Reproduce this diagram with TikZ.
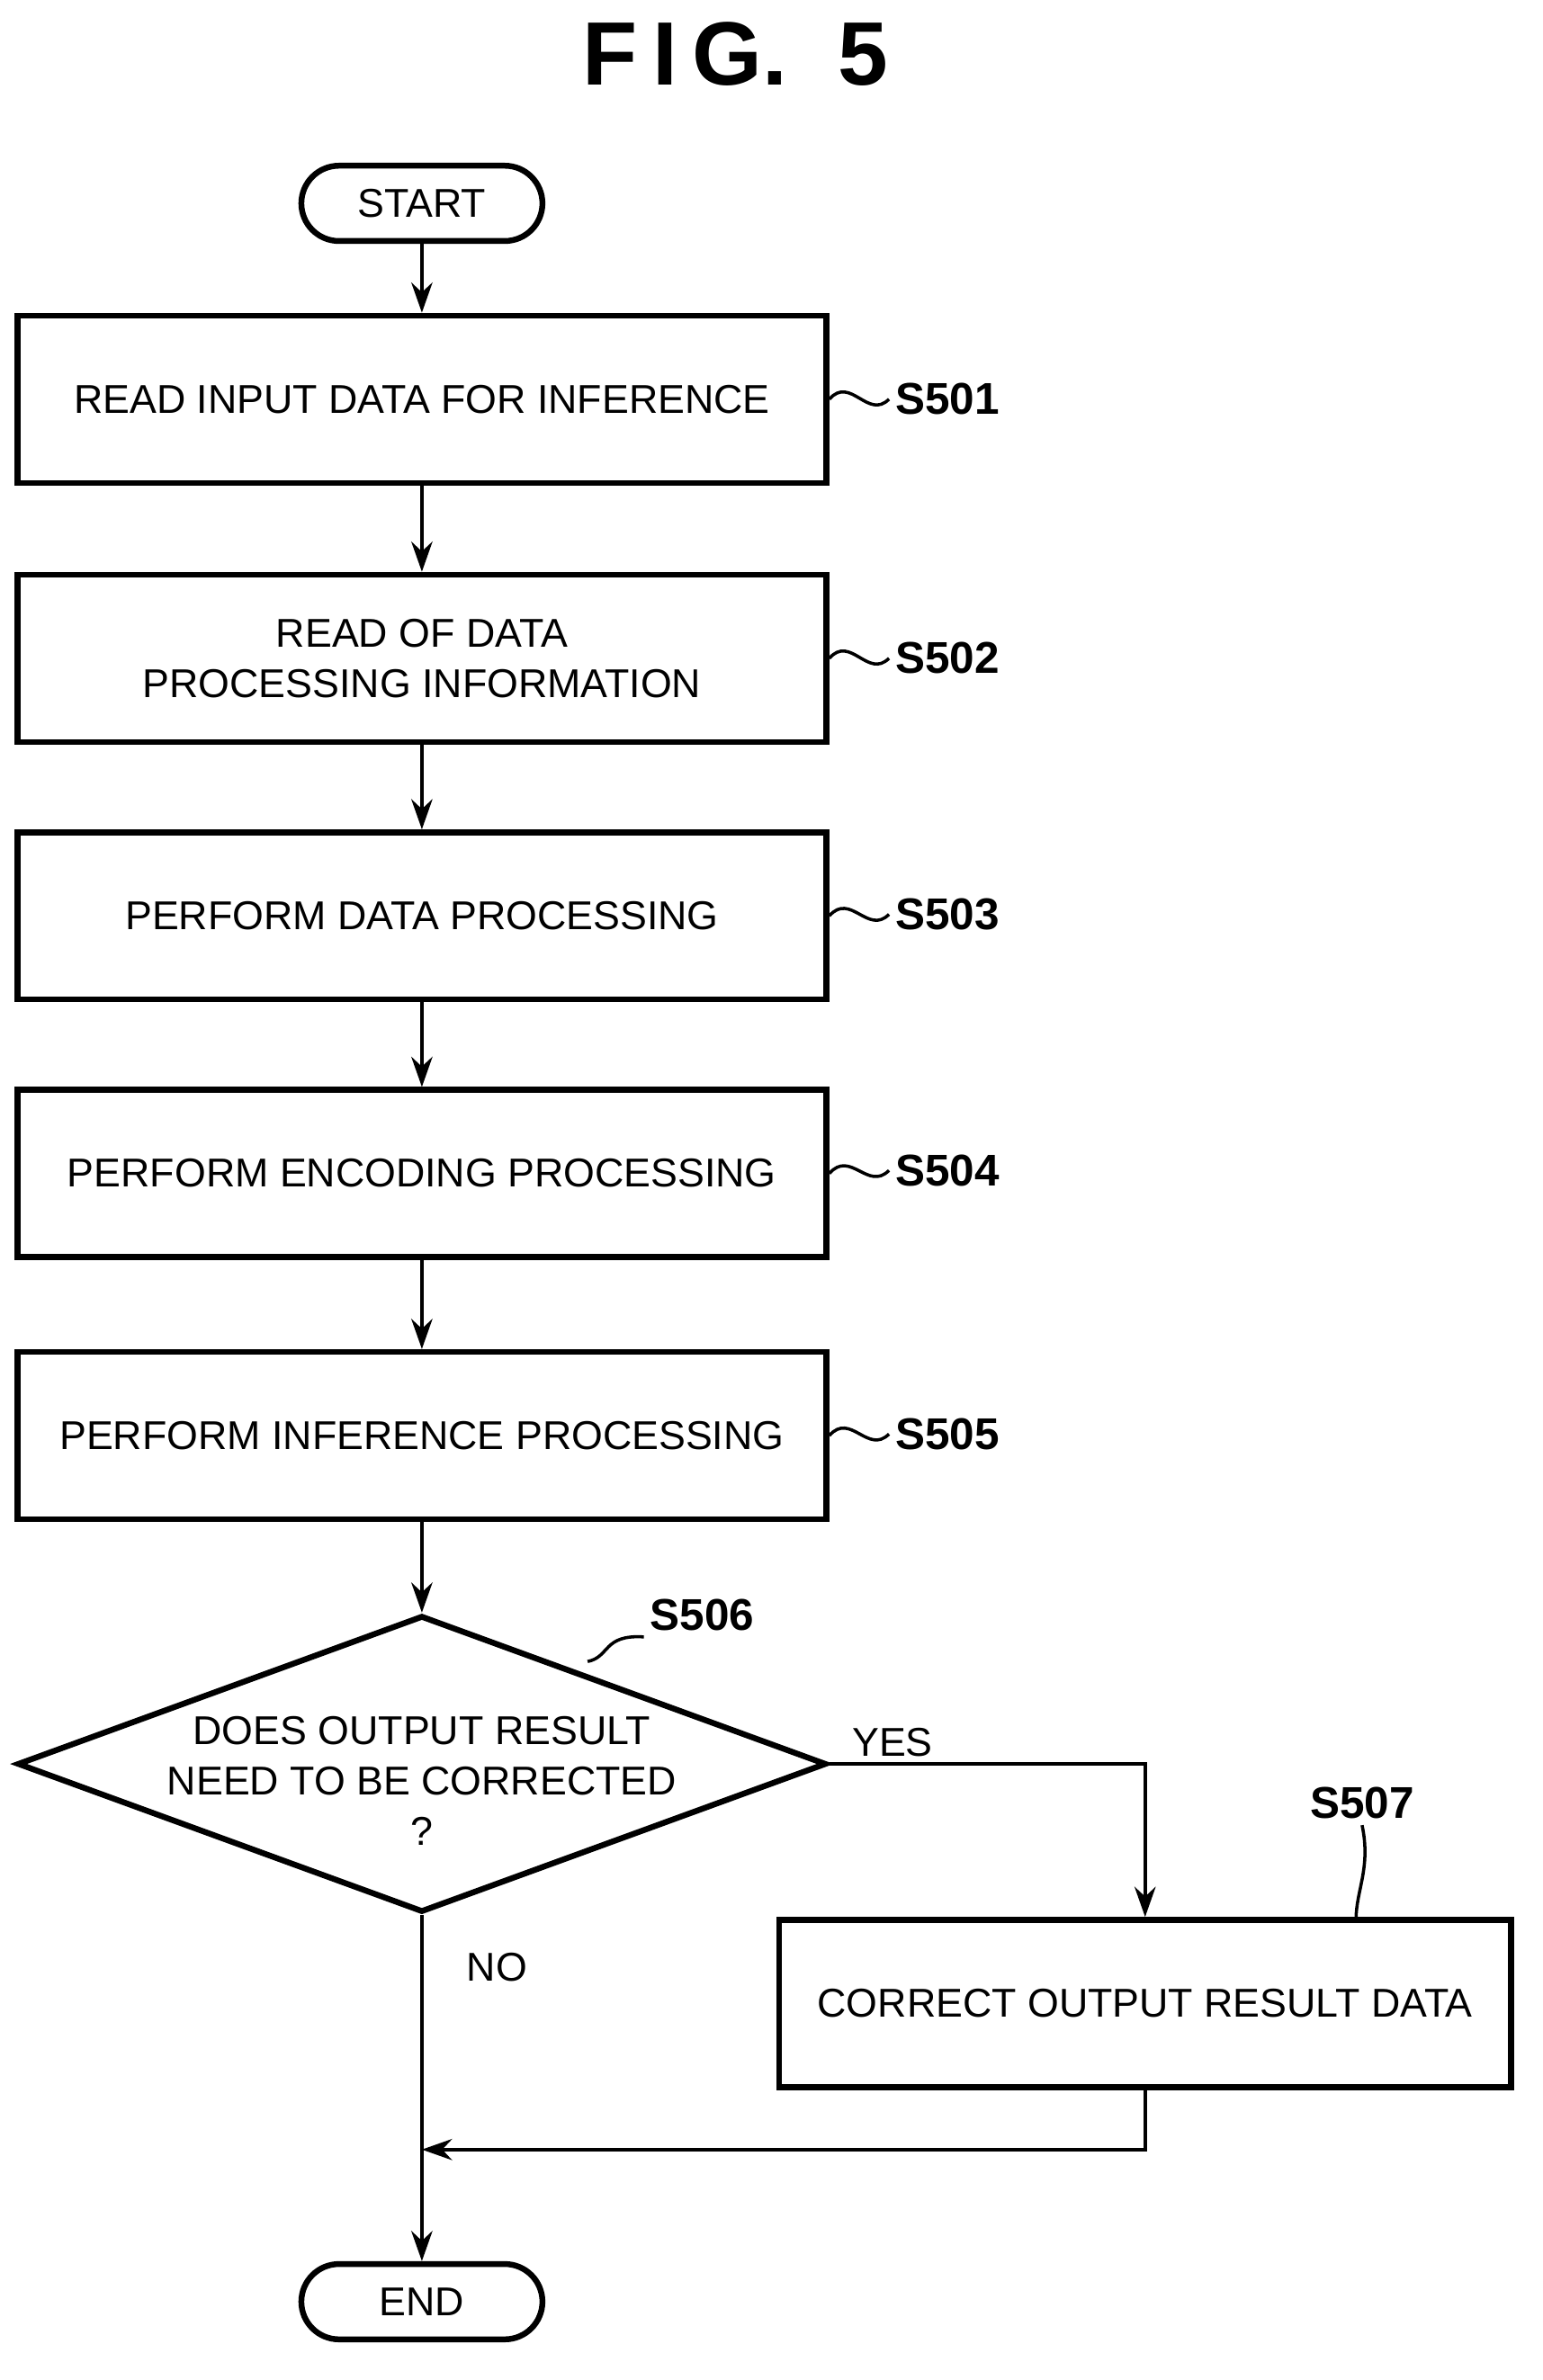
\documentclass[tikz,border=0pt]{standalone}
\usepackage{fontspec}
\setmainfont{Liberation Sans}
\usetikzlibrary{shapes.geometric,arrows.meta}
\tikzset{
  proc/.style={draw,line width=1.1pt,minimum width=53.7mm,minimum height=11.1mm,align=center,font=\fontsize{7.6}{9.5}\selectfont,inner sep=0pt},
  term/.style={draw,line width=1.1pt,rounded corners=2.5mm,minimum width=16mm,minimum height=5mm,font=\fontsize{7.6}{9.5}\selectfont,inner sep=0pt},
  lab/.style={font=\bfseries\fontsize{8.4}{10}\selectfont,inner sep=1pt},
  txt/.style={font=\fontsize{7.6}{9.5}\selectfont,inner sep=1pt},
  flow/.style={line width=0.7pt,-{Stealth[length=2mm,width=1.4mm]}},
  lead/.style={line width=0.6pt}
}
\begin{document}
\begin{tikzpicture}[x=0.1mm,y=-0.1mm]
\useasboundingbox (0,0) rectangle (1024,1580);
\node[font=\bfseries\fontsize{17}{20}\selectfont] (title) at (488,36) {F\,I\,G.\ \ 5};
\node[term] (start) at (280,135) {START};
\node[proc] (s501) at (280,265) {READ INPUT DATA FOR INFERENCE};
\node[proc] (s502) at (280,437) {READ OF DATA\\PROCESSING INFORMATION};
\node[proc] (s503) at (280,608) {PERFORM DATA PROCESSING};
\node[proc] (s504) at (280,779) {PERFORM ENCODING PROCESSING};
\node[proc] (s505) at (280,953) {PERFORM INFERENCE PROCESSING};
\node[draw,line width=1.1pt,diamond,aspect=2.73,minimum width=53.7mm,minimum height=19.7mm,inner sep=0pt] (s506) at (280,1171) {};
\node[txt,align=center] (q506) at (280,1182) {DOES OUTPUT RESULT\\NEED TO BE CORRECTED\\?};
\node[proc,minimum width=48.6mm] (s507) at (760,1330) {CORRECT OUTPUT RESULT DATA};
\node[term] (end) at (280,1528) {END};
\coordinate (merge) at (280,1427);
% step labels
\node[lab,anchor=west] (l501) at (590,265) {S501};
\node[lab,anchor=west] (l502) at (590,437) {S502};
\node[lab,anchor=west] (l503) at (590,607) {S503};
\node[lab,anchor=west] (l504) at (590,777) {S504};
\node[lab,anchor=west] (l505) at (590,952) {S505};
\node[lab] (l506) at (466,1072) {S506};
\node[lab] (l507) at (904,1197) {S507};
\foreach \s in {501,502,503,504,505}
  \draw[lead] (s\s.east) .. controls +(14,-16) and +(-14,14) .. (l\s.west);
\draw[lead] (390,1103) .. controls (405,1100) and (400,1085) .. (l506.south west);
\draw[lead] (900,1274) .. controls (900,1255) and (910,1240) .. (l507.south);
% connectors
\draw[flow] (start) -- (s501);
\draw[flow] (s501) -- (s502);
\draw[flow] (s502) -- (s503);
\draw[flow] (s503) -- (s504);
\draw[flow] (s504) -- (s505);
\draw[flow] (s505) -- (s506);
\draw[flow] (s506.east) -| node[pos=0.1,above,txt] {YES} (s507.north);
\draw[flow] (s506.south) -- node[pos=0.15,right=2.5mm,txt] {NO} (end.north);
\draw[flow] (s507.south) |- (merge);
\end{tikzpicture}
\end{document}
